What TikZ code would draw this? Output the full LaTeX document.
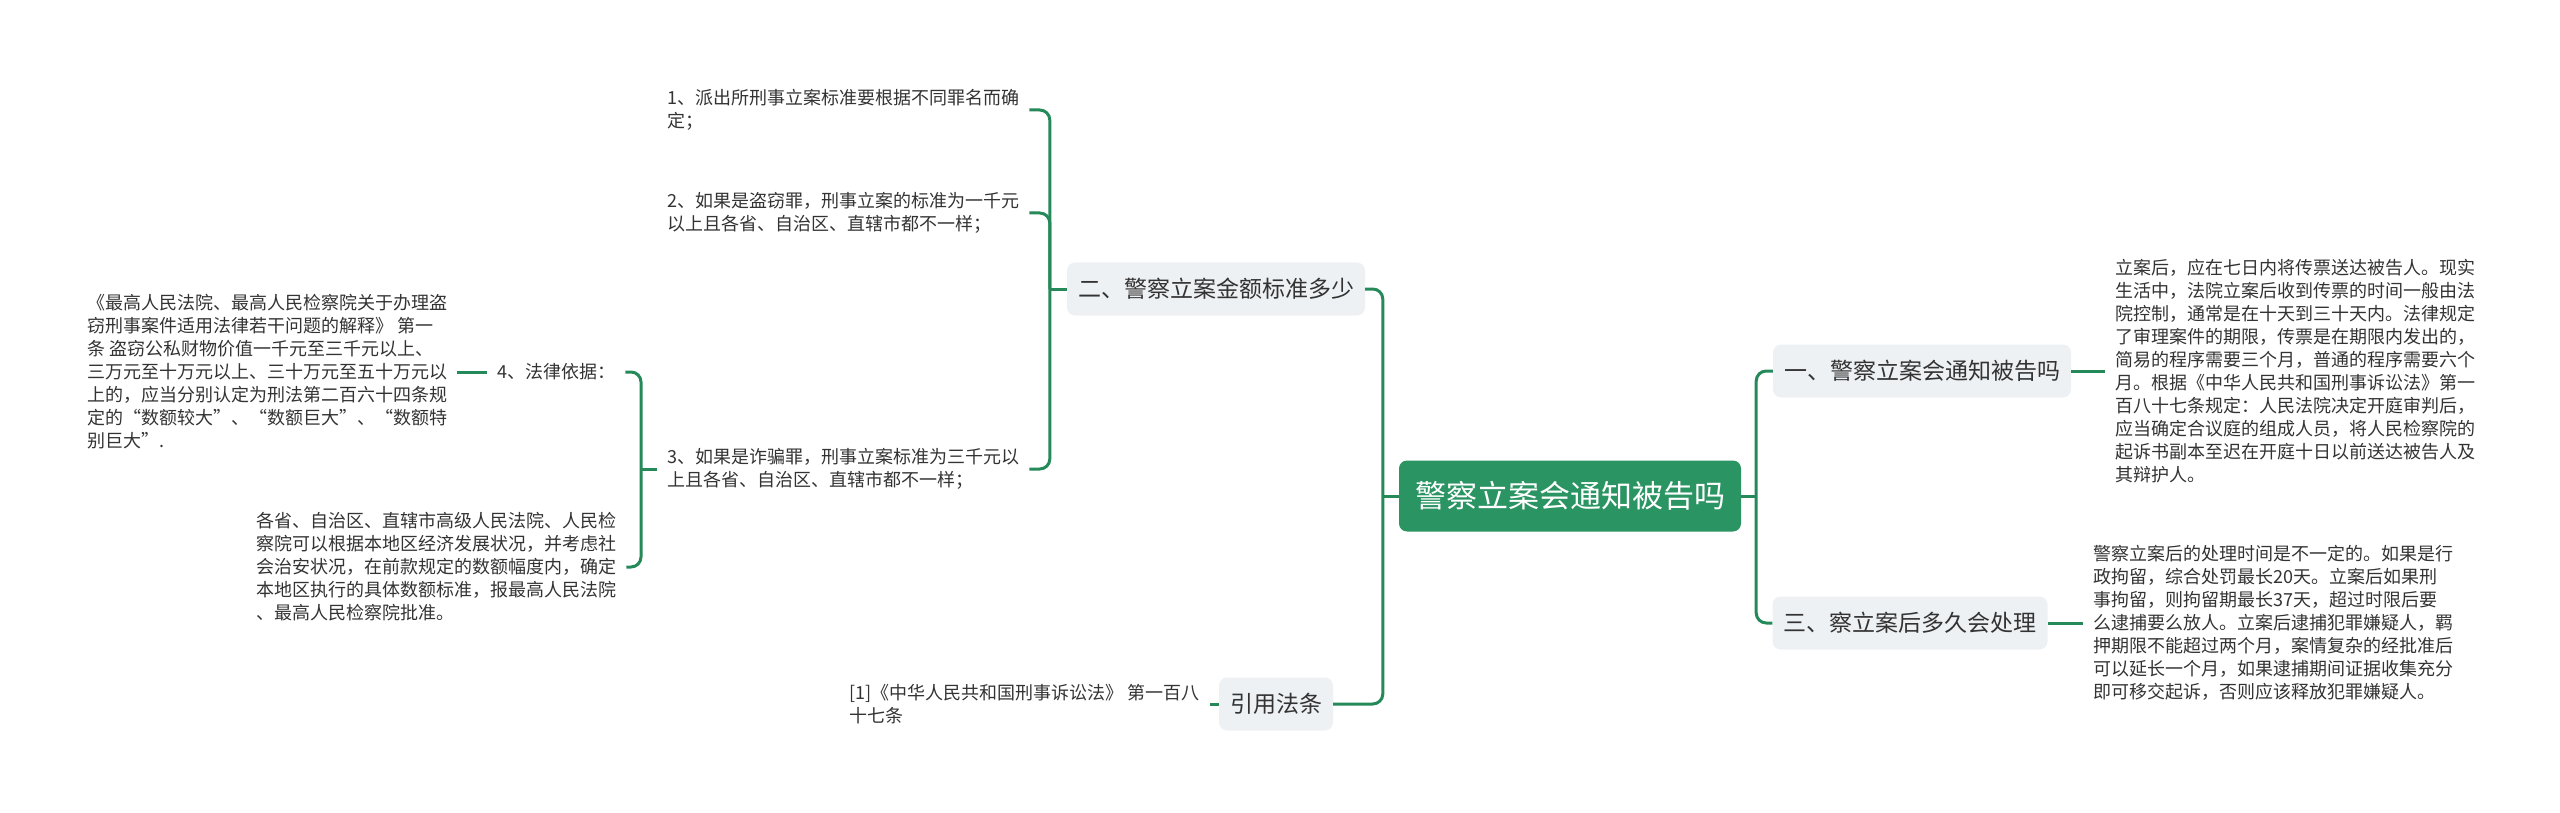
\documentclass[tikz,border=0pt]{standalone}
\usepackage{fontspec}
\newfontfamily\cjk{Noto Sans CJK SC}
\definecolor{mapgreen}{RGB}{38,137,90}
\definecolor{rootgreen}{RGB}{43,148,99}
\definecolor{branchgray}{RGB}{238,241,244}
\definecolor{inkgray}{RGB}{51,51,51}
\begin{document}
\begin{tikzpicture}[x=1pt, y=-1pt,
  rootbox/.style={fill=rootgreen, rounded corners=8pt, text=white, font=\cjk\fontsize{31}{37}\selectfont, minimum height=71pt, inner xsep=16pt},
  branchbox/.style={fill=branchgray, rounded corners=8pt, text=inkgray, font=\cjk\fontsize{23}{28}\selectfont, minimum height=53pt, inner xsep=11pt},
  leaftext/.style={anchor=west, align=left, text=inkgray, font=\cjk\fontsize{18}{23}\selectfont, inner xsep=10pt, inner ysep=4pt},
  link/.style={draw=mapgreen, line width=3pt, rounded corners=10pt}]
\useasboundingbox (0,0) rectangle (2560,813);
\node[rootbox] (root) at (1570,496) {警察立案会通知被告吗};
\node[branchbox] (notify) at (1922,371) {一、警察立案会通知被告吗};
\node[branchbox] (handle) at (1910,623) {三、察立案后多久会处理};
\node[branchbox] (amount) at (1216,289) {二、警察立案金额标准多少};
\node[branchbox] (cite) at (1276,704) {引用法条};
\node[leaftext] (notifytext) at (2105,371) {立案后，应在七日内将传票送达被告人。现实\\生活中，法院立案后收到传票的时间一般由法\\院控制，通常是在十天到三十天内。法律规定\\了审理案件的期限，传票是在期限内发出的，\\简易的程序需要三个月，普通的程序需要六个\\月。根据《中华人民共和国刑事诉讼法》第一\\百八十七条规定：人民法院决定开庭审判后，\\应当确定合议庭的组成人员，将人民检察院的\\起诉书副本至迟在开庭十日以前送达被告人及\\其辩护人。};
\node[leaftext] (handletext) at (2083,623) {警察立案后的处理时间是不一定的。如果是行\\政拘留，综合处罚最长20天。立案后如果刑\\事拘留，则拘留期最长37天，超过时限后要\\么逮捕要么放人。立案后逮捕犯罪嫌疑人，羁\\押期限不能超过两个月，案情复杂的经批准后\\可以延长一个月，如果逮捕期间证据收集充分\\即可移交起诉，否则应该释放犯罪嫌疑人。};
\node[leaftext] (std1) at (657,110) {1、派出所刑事立案标准要根据不同罪名而确\\定；};
\node[leaftext] (std2) at (657,213) {2、如果是盗窃罪，刑事立案的标准为一千元\\以上且各省、自治区、直辖市都不一样；};
\node[leaftext] (std3) at (657,469) {3、如果是诈骗罪，刑事立案标准为三千元以\\上且各省、自治区、直辖市都不一样；};
\node[leaftext] (basis) at (487,372) {4、法律依据：};
\node[leaftext] (basistext) at (77,372) {《最高人民法院、最高人民检察院关于办理盗\\窃刑事案件适用法律若干问题的解释》 第一\\条 盗窃公私财物价值一千元至三千元以上、\\三万元至十万元以上、三十万元至五十万元以\\上的，应当分别认定为刑法第二百六十四条规\\定的“数额较大”、“数额巨大”、“数额特\\别巨大”.};
\node[leaftext] (province) at (246,567) {各省、自治区、直辖市高级人民法院、人民检\\察院可以根据本地区经济发展状况，并考虑社\\会治安状况，在前款规定的数额幅度内，确定\\本地区执行的具体数额标准，报最高人民法院\\、最高人民检察院批准。};
\node[leaftext] (citetext) at (839,704) {[1]《中华人民共和国刑事诉讼法》 第一百八\\十七条};
% right side
\coordinate (rbus) at ([xshift=15pt]root.east);
\draw[link] (root.east) -- (rbus);
\draw[link] (rbus) |- (notify.west);
\draw[link] (rbus) |- (handle.west);
\draw[link] (notify.east) -- (notifytext.west);
\draw[link] (handle.east) -- (handletext.west);
% left side
\coordinate (lbus) at ([xshift=-16pt]root.west);
\draw[link] (root.west) -- (lbus);
\draw[link] (lbus) |- (amount.east);
\draw[link] (lbus) |- (cite.east);
\draw[link] (cite.west) -- (citetext.east);
\coordinate (abus) at ([xshift=-17pt]amount.west);
\draw[link] (amount.west) -- (abus);
\draw[link] (abus) |- (std1.east);
\draw[link] (abus) |- (std2.east);
\draw[link] (abus) |- (std3.east);
\coordinate (sbus) at ([xshift=-16pt]std3.west);
\draw[link] (std3.west) -- (sbus);
\draw[link] (sbus) |- (basis.east);
\draw[link] (sbus) |- (province.east);
\draw[link] (basis.west) -- (basistext.east);
\end{tikzpicture}
\end{document}
